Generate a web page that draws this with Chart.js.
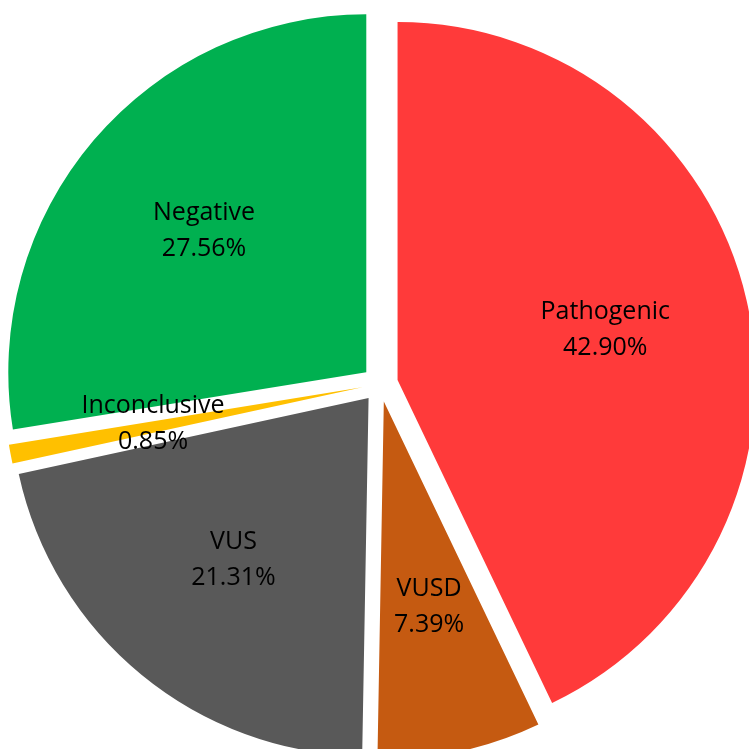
<!DOCTYPE html>
<html>
<head>
<meta charset="utf-8">
<script src="https://cdn.jsdelivr.net/npm/chart.js@4/dist/chart.umd.min.js"></script>
<style>
    body { margin: 0; background: #fff; }
    .chart-box { width: 749px; height: 749px; position: relative; }
</style>
</head>
<body>
<div class="chart-box">
    <canvas id="PieChart"></canvas>
</div>
<script>
const categories = ['Pathogenic', 'VUSD', 'VUS', 'Inconclusive', 'Negative'];
const percents = [42.90, 7.39, 21.31, 0.85, 27.56];
const sliceColors = ['#FF3A3A', '#C55A11', '#595959', '#FFC000', '#00B050'];

// how far every slice is pulled out from the middle
const explode = 18;

// push each arc out along its own mid angle
const explodePlugin = {
    id: 'explode',
    afterDatasetsUpdate(chart) {
        chart.getDatasetMeta(0).data.forEach((arc) => {
            const mid = (arc.startAngle + arc.endAngle) / 2;
            arc.x += Math.cos(mid) * explode;
            arc.y += Math.sin(mid) * explode;
        });
    }
};

// name + percent written in the middle of each slice
const sliceLabels = {
    id: 'sliceLabels',
    afterDatasetsDraw(chart) {
        const ctx = chart.ctx;
        const meta = chart.getDatasetMeta(0);
        ctx.save();
        ctx.fillStyle = '#000';
        ctx.font = '25px "Open Sans"';
        ctx.textAlign = 'center';
        ctx.textBaseline = 'middle';
        meta.data.forEach((arc, i) => {
            const mid = (arc.startAngle + arc.endAngle) / 2;
            const r = arc.outerRadius * 0.595;
            const x = arc.x + Math.cos(mid) * r;
            const y = arc.y + Math.sin(mid) * r;
            ctx.fillText(categories[i], x, y - 21);
            ctx.fillText(percents[i].toFixed(2) + '%', x, y + 15);
        });
        ctx.restore();
    }
};

const ptx = document.getElementById('PieChart');

new Chart(ptx, {
    type: 'pie',
    data: {
        labels: categories,
        datasets: [{
            data: percents,
            backgroundColor: sliceColors,
            borderWidth: 0,
            radius: 358,
            clip: false
        }]
    },
    options: {
        responsive: true,
        maintainAspectRatio: false,
        animation: false,
        layout: {
            padding: { left: 11, top: 19, right: 0, bottom: 0 }
        },
        plugins: {
            legend: { display: false },
            tooltip: { enabled: false }
        }
    },
    plugins: [explodePlugin, sliceLabels]
});
</script>
</body>
</html>
